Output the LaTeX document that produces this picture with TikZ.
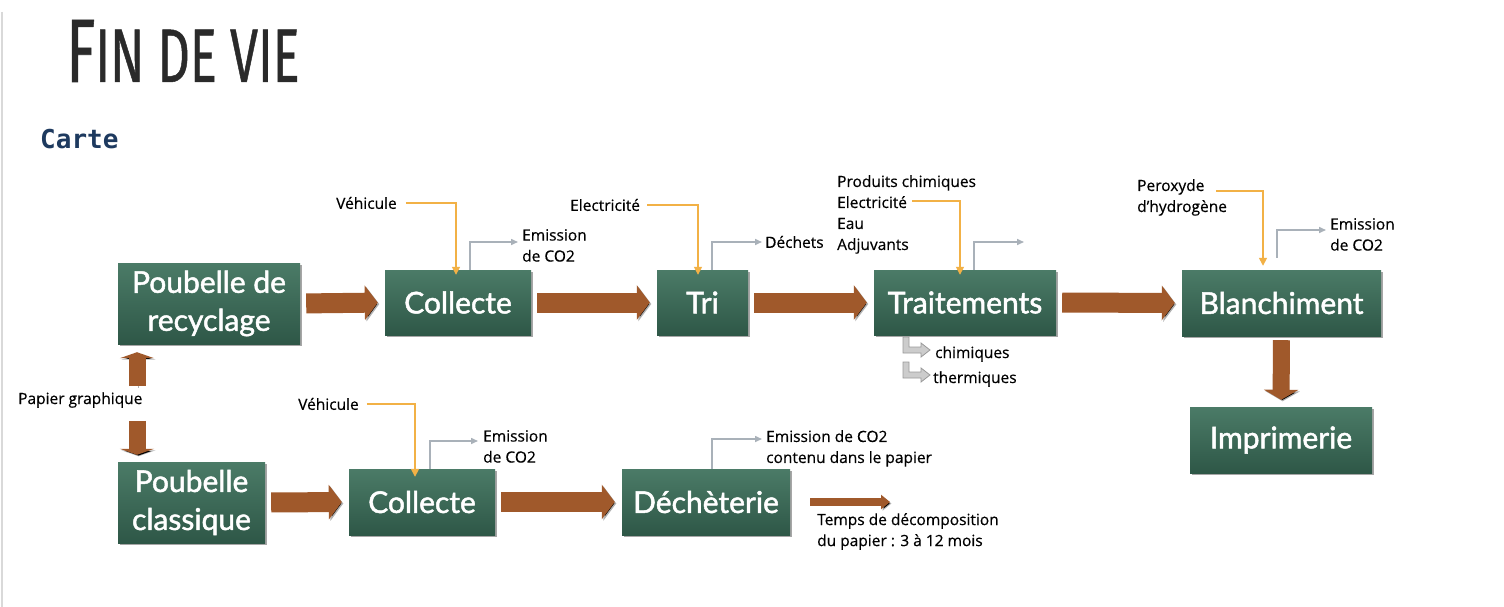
\documentclass[tikz,border=0pt]{standalone}
\usepackage{fontspec}
\setmainfont[FakeBold=0.4]{Open Sans}
\newfontfamily\boxfont[FakeBold=1.6]{Lato}
\newfontfamily\titlefont[FakeStretch=0.66,FakeBold=0.6]{Fira Sans}
\newfontfamily\monofont{DejaVu Sans Mono}
\usetikzlibrary{arrows.meta,calc,shadows}
\definecolor{boxtop}{HTML}{4B7B67}
\definecolor{boxbot}{HTML}{2E5747}
\definecolor{brownc}{HTML}{A0592B}
\definecolor{orangec}{HTML}{F2B146}
\definecolor{grayc}{HTML}{A9B1B9}
\definecolor{cartec}{HTML}{1E3A5F}
\definecolor{titlec}{HTML}{2A2A2A}
\tikzset{
  box/.style={rectangle, top color=boxtop, bottom color=boxbot, text=white, inner sep=0pt,
    align=center, font=\boxfont\fontsize{30}{38}\selectfont,
    drop shadow={shadow xshift=1.5pt, shadow yshift=-2pt, fill=black, opacity=0.35}},
  lab/.style={inner sep=0pt, align=left, font=\fontsize{15.5}{21}\selectfont, text=black},
  brarr/.style={draw=brownc, line width=20pt, -{Triangle[length=13pt,width=34pt]},
    shorten <=6pt, shorten >=7pt,
    preaction={draw=black, draw opacity=0.3, transform canvas={xshift=1.5pt,yshift=-1.5pt}}},
  inarr/.style={draw=orangec, line width=1.5pt, -{Triangle[length=8pt,width=8pt]}},
  outarr/.style={draw=grayc, line width=1.5pt, -{Triangle[length=7pt,width=6pt]}},
  lshape/.style={fill=gray!40, draw=gray!80, line width=0.8pt},
}
\begin{document}
\begin{tikzpicture}[x=1pt,y=-1pt]
\useasboundingbox[fill=white] (0,0) rectangle (1504,607);
\draw[gray!30, line width=2pt] (2,12) -- (2,607);

% title
\node[anchor=base west, inner sep=0pt, text=titlec] (title) at (66,82)
  {\titlefont{\fontsize{90}{90}\selectfont F}{\fontsize{76}{76}\selectfont IN DE VIE}};
\node[anchor=base west, inner sep=0pt, text=cartec] (carte) at (40,148)
  {\monofont\bfseries\fontsize{26}{26}\selectfont Carte};

% boxes
\node[box, minimum width=182pt, minimum height=81pt] (pr) at (209,303.5) {Poubelle de\\recyclage};
\node[box, minimum width=146pt, minimum height=65pt] (c1) at (458,302.5) {Collecte};
\node[box, minimum width=91pt, minimum height=65pt] (tri) at (702.5,302.5) {Tri};
\node[box, minimum width=182pt, minimum height=65pt] (tr) at (965,302.5) {Traitements};
\node[box, minimum width=199pt, minimum height=66pt] (bl) at (1281.5,303) {Blanchiment};
\node[box, minimum width=182pt, minimum height=66pt] (im) at (1281,440) {Imprimerie};
\node[box, minimum width=147pt, minimum height=81pt] (pc) at (191.5,502.5) {Poubelle\\classique};
\node[box, minimum width=146pt, minimum height=66pt] (c2) at (422,502) {Collecte};
\node[box, minimum width=168pt, minimum height=66pt] (de) at (706,502) {Déchèterie};

% labels
\node[lab, anchor=west] (veh1) at (336,203) {Véhicule};
\node[lab, anchor=north west] (em1) at (522,229) {Emission\\de CO2};
\node[lab, anchor=west] (elec1) at (570,205) {Electricité};
\node[lab, anchor=west] (dech) at (765,242) {Déchets};
\node[lab, anchor=north west] (prod) at (837,175) {Produits chimiques\\Electricité\\Eau\\Adjuvants};
\node[lab, anchor=north west] (perox) at (1137,179) {Peroxyde\\d'hydrogène};
\node[lab, anchor=north west] (em3) at (1330,218) {Emission\\de CO2};
\node[lab, anchor=west] (chim) at (935,354) {chimiques};
\node[lab, anchor=west] (therm) at (933,379) {thermiques};
\node[lab, anchor=west] (pg) at (18,400) {Papier graphique};
\node[lab, anchor=west] (veh2) at (298,404) {Véhicule};
\node[lab, anchor=north west] (em2) at (483,430) {Emission\\de CO2};
\node[lab, anchor=north west] (em4) at (766,430) {Emission de CO2\\contenu dans le papier};
\node[lab, anchor=north west] (temps) at (817,513) {Temps de décomposition\\du papier : 3 à 12 mois};

% free ends
\coordinate (ax) at (137,0);
\coordinate (pe) at (912,201);
\coordinate (po) at (1216,191);
\coordinate (trout) at (1024,242);
\coordinate (deend) at (890,502);

% brown flow arrows
\draw[brarr] (pr.east) -- (c1.west);
\draw[brarr] (c1.east) -- (tri.west);
\draw[brarr] (tri.east) -- (tr.west);
\draw[brarr] (tr.east) -- (bl.west);
\draw[brarr, line width=17pt, -{Triangle[length=10pt,width=34pt]}, shorten <=4pt] (bl.south) -- (im.north);
\draw[brarr] (pc.east) -- (c2.west);
\draw[brarr] (c2.east) -- (de.west);
\draw[brarr, line width=8pt, -{Triangle[length=9pt,width=14pt]}, shorten <=20pt, shorten >=0pt] (de.east) -- (deend);
\draw[brarr, line width=17pt, -{Triangle[length=6pt,width=34pt]}, shorten <=6pt, shorten >=8pt] (pg.north -| ax) -- (pr.south -| ax);
\draw[brarr, line width=17pt, -{Triangle[length=6pt,width=34pt]}, shorten <=13pt, shorten >=7pt] (pg.south -| ax) -- (pc.north -| ax);

% orange inputs
\draw[inarr] ([xshift=9pt]veh1.east) -| ([xshift=-2pt,yshift=-5pt]c1.north);
\draw[inarr] ([xshift=7pt]elec1.east) -| ([xshift=-4.5pt,yshift=-5pt]tri.north);
\draw[inarr] (pe) -| ([xshift=-5pt,yshift=-5pt]tr.north);
\draw[inarr] (po) -| ([xshift=-18.5pt,yshift=4pt]bl.north);
\draw[inarr] ([xshift=8pt]veh2.east) -| ([xshift=-7pt,yshift=-8pt]c2.north);

% gray outputs
\draw[outarr] ([xshift=12pt]c1.north) |- ([shift={(-4pt,-13pt)}]em1.north west);
\draw[outarr] ([xshift=9.5pt]tri.north) |- ([xshift=-3pt]dech.west);
\draw[outarr] ([xshift=9pt]tr.north) |- (trout);
\draw[outarr] ([xshift=-4.5pt,yshift=12pt]bl.north) |- ([shift={(-4pt,-12pt)}]em3.north west);
\draw[outarr] ([xshift=8pt]c2.north) |- ([shift={(-5pt,-11pt)}]em2.north west);
\draw[outarr] ([xshift=6pt]de.north) |- ([shift={(-4pt,-9pt)}]em4.north west);

% bent arrows under Traitements
\path[lshape] (903,337) -- (909,337) -- (909,347) -- (921,347) -- (921,343) -- (930,350)
  -- (921,357) -- (921,353) -- (903,353) -- cycle;
\path[lshape] (903,362) -- (909,362) -- (909,372) -- (921,372) -- (921,368) -- (930,375)
  -- (921,382) -- (921,378) -- (903,378) -- cycle;
\end{tikzpicture}
\end{document}
